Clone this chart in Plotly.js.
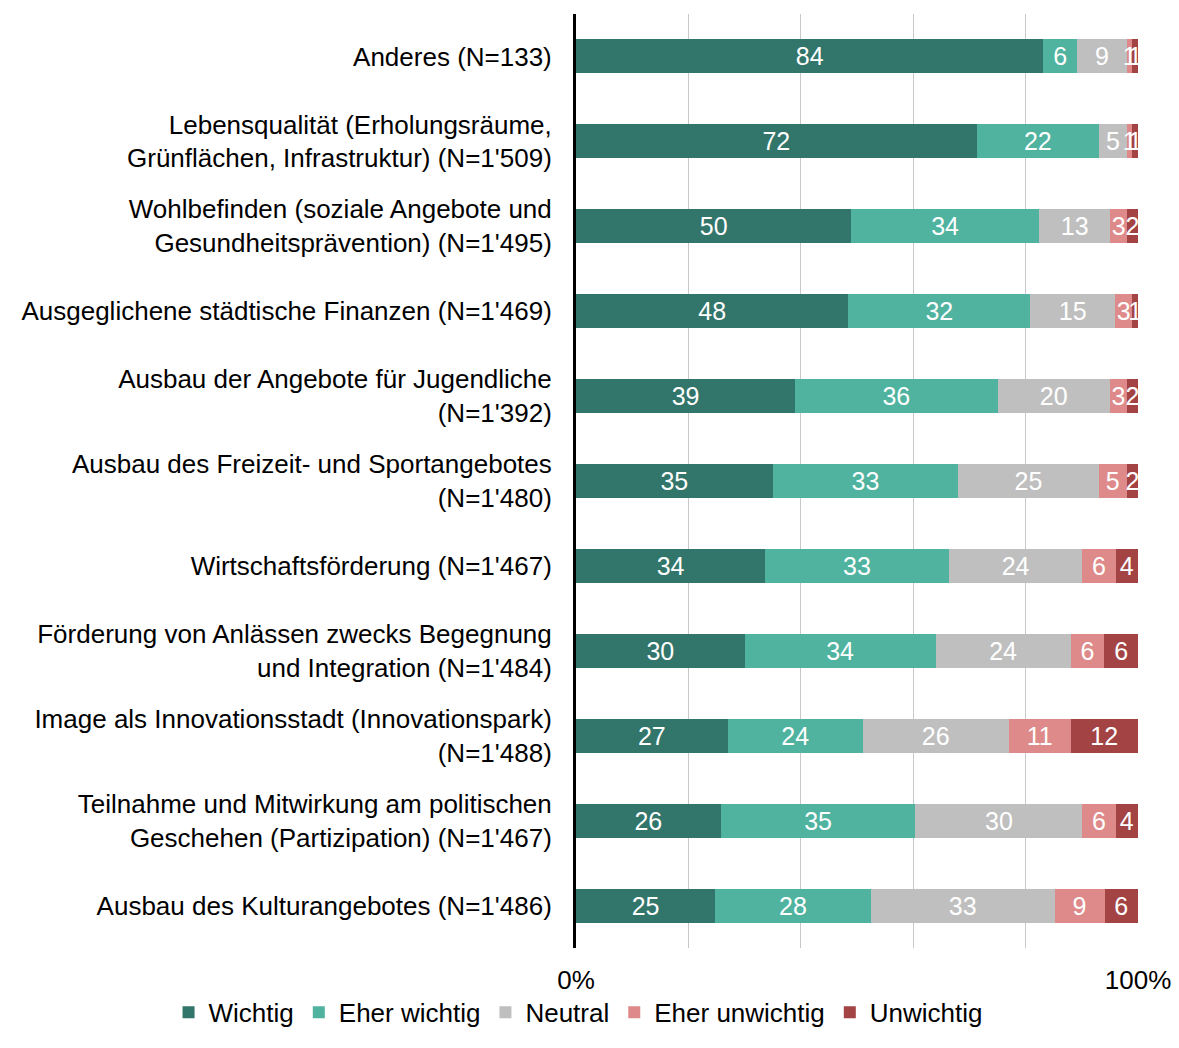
<!DOCTYPE html>
<html>
<head>
<meta charset="utf-8">
<script src="https://cdn.plot.ly/plotly-3.0.1.min.js"></script>
<style>
  html, body { margin: 0; padding: 0; background: #fff; }
  #chart { width: 1179px; height: 1048px; }
</style>
</head>
<body>
<div id="chart"></div>
<script>
(function() {

  var categories = [
    'Anderes (N=133)',
    'Lebensqualität (Erholungsräume,<br>Grünflächen, Infrastruktur) (N=1\'509)',
    'Wohlbefinden (soziale Angebote und<br>Gesundheitsprävention) (N=1\'495)',
    'Ausgeglichene städtische Finanzen (N=1\'469)',
    'Ausbau der Angebote für Jugendliche<br>(N=1\'392)',
    'Ausbau des Freizeit- und Sportangebotes<br>(N=1\'480)',
    'Wirtschaftsförderung (N=1\'467)',
    'Förderung von Anlässen zwecks Begegnung<br>und Integration (N=1\'484)',
    'Image als Innovationsstadt (Innovationspark)<br>(N=1\'488)',
    'Teilnahme und Mitwirkung am politischen<br>Geschehen (Partizipation) (N=1\'467)',
    'Ausbau des Kulturangebotes (N=1\'486)'
  ];

  var wichtig       = [84, 72, 50, 48, 39, 35, 34, 30, 27, 26, 25];
  var eherWichtig   = [6, 22, 34, 32, 36, 33, 33, 34, 24, 35, 28];
  var neutral       = [9, 5, 13, 15, 20, 25, 24, 24, 26, 30, 33];
  var eherUnwichtig = [1, 1, 3, 3, 3, 5, 6, 6, 11, 6, 9];
  var unwichtig     = [1, 1, 2, 1, 2, 2, 4, 6, 12, 4, 6];

  var tickVals = [0, 20, 40, 60, 80, 100];
  var tickText = ['0%', '', '', '', '', '100%'];

  var font = 'Liberation Sans, Arial, sans-serif';

  function series(name, values, color) {
    return {
      type: 'bar',
      orientation: 'h',
      name: name,
      y: categories,
      x: values,
      text: values.map(String),
      texttemplate: '%{text}',
      textposition: 'inside',
      insidetextanchor: 'middle',
      textangle: 0,
      constraintext: 'none',
      textfont: { family: font, size: 25, color: '#ffffff' },
      marker: { color: color, line: { width: 0 } },
      hoverinfo: 'name+x'
    };
  }

  var data = [
    series('Wichtig', wichtig, '#32756a'),
    series('Eher wichtig', eherWichtig, '#4fb3a0'),
    series('Neutral', neutral, '#bfbfbf'),
    series('Eher unwichtig', eherUnwichtig, '#de8a8a'),
    series('Unwichtig', unwichtig, '#a34343')
  ];

  var layout = {
    width: 1179,
    height: 1048,
    barmode: 'stack',
    barnorm: 'percent',
    bargap: 0.6,
    paper_bgcolor: '#ffffff',
    plot_bgcolor: '#ffffff',
    font: { family: font, size: 26, color: '#000000' },
    margin: { l: 576, r: 41, t: 14, b: 100 },
    uniformtext: { mode: 'show', minsize: 25 },
    xaxis: {
      range: [0, 100],
      tickvals: tickVals,
      ticktext: tickText,
      showgrid: true,
      gridcolor: '#c8c8c8',
      gridwidth: 1,
      zeroline: false,
      showline: false,
      ticks: '',
      ticklabelstandoff: 14,
      tickfont: { family: font, size: 26, color: '#000000' },
      fixedrange: true
    },
    yaxis: {
      autorange: 'reversed',
      showline: true,
      linecolor: '#000000',
      linewidth: 3,
      showgrid: false,
      zeroline: false,
      ticks: '',
      ticklabelstandoff: 16,
      tickfont: { family: font, size: 26, color: '#000000' },
      fixedrange: true
    },
    showlegend: true,
    legend: {
      orientation: 'h',
      x: -0.725,
      xanchor: 'left',
      y: -0.094,
      yanchor: 'bottom',
      bgcolor: 'rgba(0,0,0,0)',
      font: { family: font, size: 26, color: '#000000' },
      itemwidth: 30,
      traceorder: 'normal'
    }
  };

  Plotly.newPlot('chart', data, layout, { displayModeBar: false, staticPlot: true });

})();
</script>
</body>
</html>
